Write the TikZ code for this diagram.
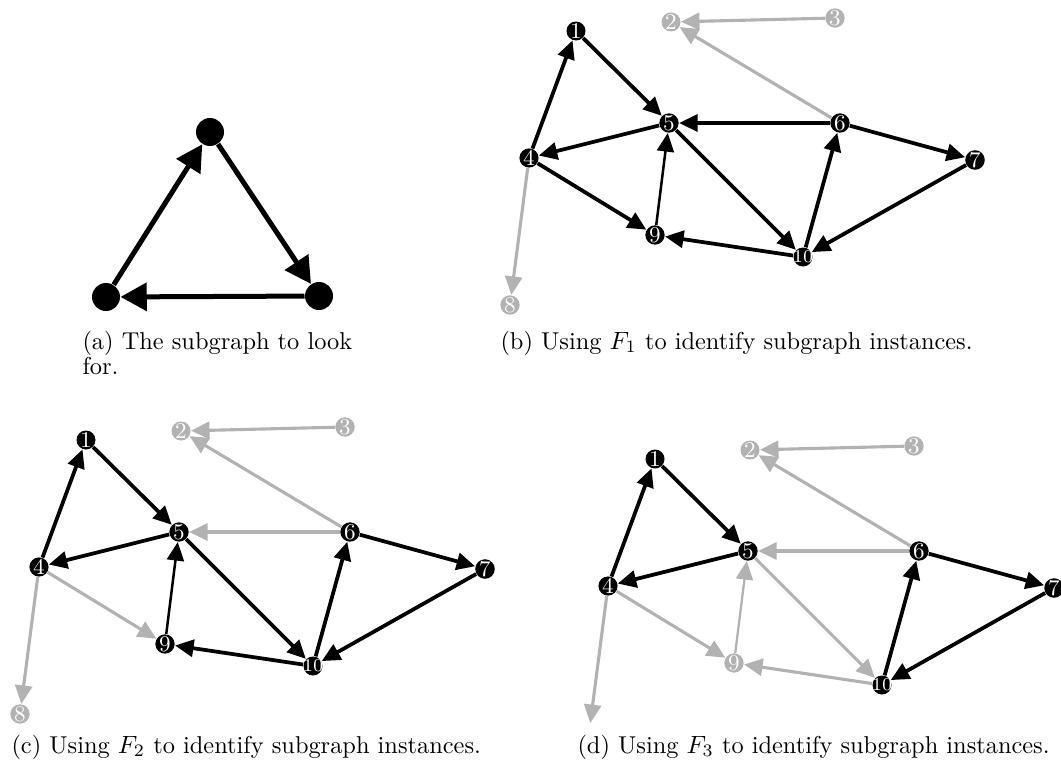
\documentclass[tikz,border=0pt]{standalone}
\usetikzlibrary{arrows.meta}
\definecolor{lg}{gray}{0.7}
\newcommand{\ten}{\makebox[0pt]{\fontsize{7.2}{7}\selectfont 10}}
\begin{document}
\begin{tikzpicture}[x=0.4pt,y=-0.4pt,
  v/.style={circle,fill=black,text=white,inner sep=0pt,minimum size=7.6pt,font=\fontsize{9}{9}\selectfont},
  gv/.style={v,fill=lg},
  e/.style={-{Triangle[length=7.4pt,width=6.8pt]},line width=1.5pt},
  te/.style={e,line width=1pt},
  ge/.style={e,draw=lg,line width=1.25pt},
  gte/.style={ge,line width=0.9pt},
  av/.style={circle,fill=black,inner sep=0pt,minimum size=11.2pt},
  ae/.style={-{Triangle[length=10.5pt,width=11pt]},line width=2pt},
  captext/.style={anchor=base west,inner sep=0pt,font=\fontsize{9.75}{9.8}\selectfont,align=left}]
\useasboundingbox (0,0) rectangle (1061,760);
% ---------- (a)
\node[av] (a1) at (210,132) {};
\node[av] (a2) at (319,296) {};
\node[av] (a3) at (106,297) {};
\draw[ae] (a3) -- (a1);
\draw[ae] (a1) -- (a2);
\draw[ae] (a2) -- (a3);
\node[captext] (capa) at (82,374) {(a) The subgraph to look\\for.};
% ---------- (b)
\node[v] (b1) at (576,31) {1};
\node[gv] (b2) at (671,22) {2};
\node[gv] (b3) at (835,18) {3};
\node[v] (b4) at (529,158) {4};
\node[v] (b5) at (669,123) {5};
\node[v] (b6) at (840,123) {6};
\node[v] (b7) at (975,160) {7};
\node[gv] (b8) at (510,305) {8};
\node[v] (b9) at (655,235) {9};
\node[v] (b10) at (803,257) {\ten};
\draw[ge] (b3) -- (b2);
\draw[ge] (b6) -- (b2);
\draw[ge] (b4) -- (b8);
\draw[e] (b4) -- (b1);
\draw[e] (b1) -- (b5);
\draw[e] (b5) -- (b4);
\draw[e] (b4) -- (b9);
\draw[te] (b9) -- (b5);
\draw[e] (b5) -- (b10);
\draw[e] (b10) -- (b9);
\draw[e] (b10) -- (b6);
\draw[e] (b6) -- (b5);
\draw[e] (b6) -- (b7);
\draw[e] (b7) -- (b10);
\node[captext] (capb) at (500,349) {(b) Using $F_1$ to identify subgraph instances.};
% ---------- (c)
\begin{scope}[shift={(-490,409)}]
\node[v] (c1) at (576,31) {1};
\node[gv] (c2) at (671,22) {2};
\node[gv] (c3) at (835,18) {3};
\node[v] (c4) at (529,158) {4};
\node[v] (c5) at (669,123) {5};
\node[v] (c6) at (840,123) {6};
\node[v] (c7) at (975,160) {7};
\node[gv] (c8) at (510,305) {8};
\node[v] (c9) at (655,235) {9};
\node[v] (c10) at (803,257) {\ten};
\draw[ge] (c3) -- (c2);
\draw[ge] (c6) -- (c2);
\draw[ge] (c4) -- (c8);
\draw[ge] (c4) -- (c9);
\draw[ge] (c6) -- (c5);
\draw[e] (c4) -- (c1);
\draw[e] (c1) -- (c5);
\draw[e] (c5) -- (c4);
\draw[te] (c9) -- (c5);
\draw[e] (c5) -- (c10);
\draw[e] (c10) -- (c9);
\draw[e] (c10) -- (c6);
\draw[e] (c6) -- (c7);
\draw[e] (c7) -- (c10);
\end{scope}
\node[captext] (capc) at (11,753) {(c) Using $F_2$ to identify subgraph instances.};
% ---------- (d)
\begin{scope}[shift={(79,428)}]
\node[v] (d1) at (576,31) {1};
\node[gv] (d2) at (671,22) {2};
\node[gv] (d3) at (835,18) {3};
\node[v] (d4) at (529,158) {4};
\node[v] (d5) at (669,123) {5};
\node[v] (d6) at (840,123) {6};
\node[v] (d7) at (975,160) {7};
\coordinate (d8) at (510,305);
\node[gv] (d9) at (655,235) {9};
\node[v] (d10) at (803,257) {\ten};
\draw[ge] (d3) -- (d2);
\draw[ge] (d6) -- (d2);
\draw[ge,shorten >=4pt] (d4) -- (d8);
\draw[ge] (d4) -- (d9);
\draw[ge] (d6) -- (d5);
\draw[gte] (d9) -- (d5);
\draw[ge] (d5) -- (d10);
\draw[ge] (d10) -- (d9);
\draw[e] (d4) -- (d1);
\draw[e] (d1) -- (d5);
\draw[e] (d5) -- (d4);
\draw[e] (d10) -- (d6);
\draw[e] (d6) -- (d7);
\draw[e] (d7) -- (d10);
\end{scope}
\node[captext] (capd) at (577,753) {(d) Using $F_3$ to identify subgraph instances.};
\end{tikzpicture}
\end{document}
